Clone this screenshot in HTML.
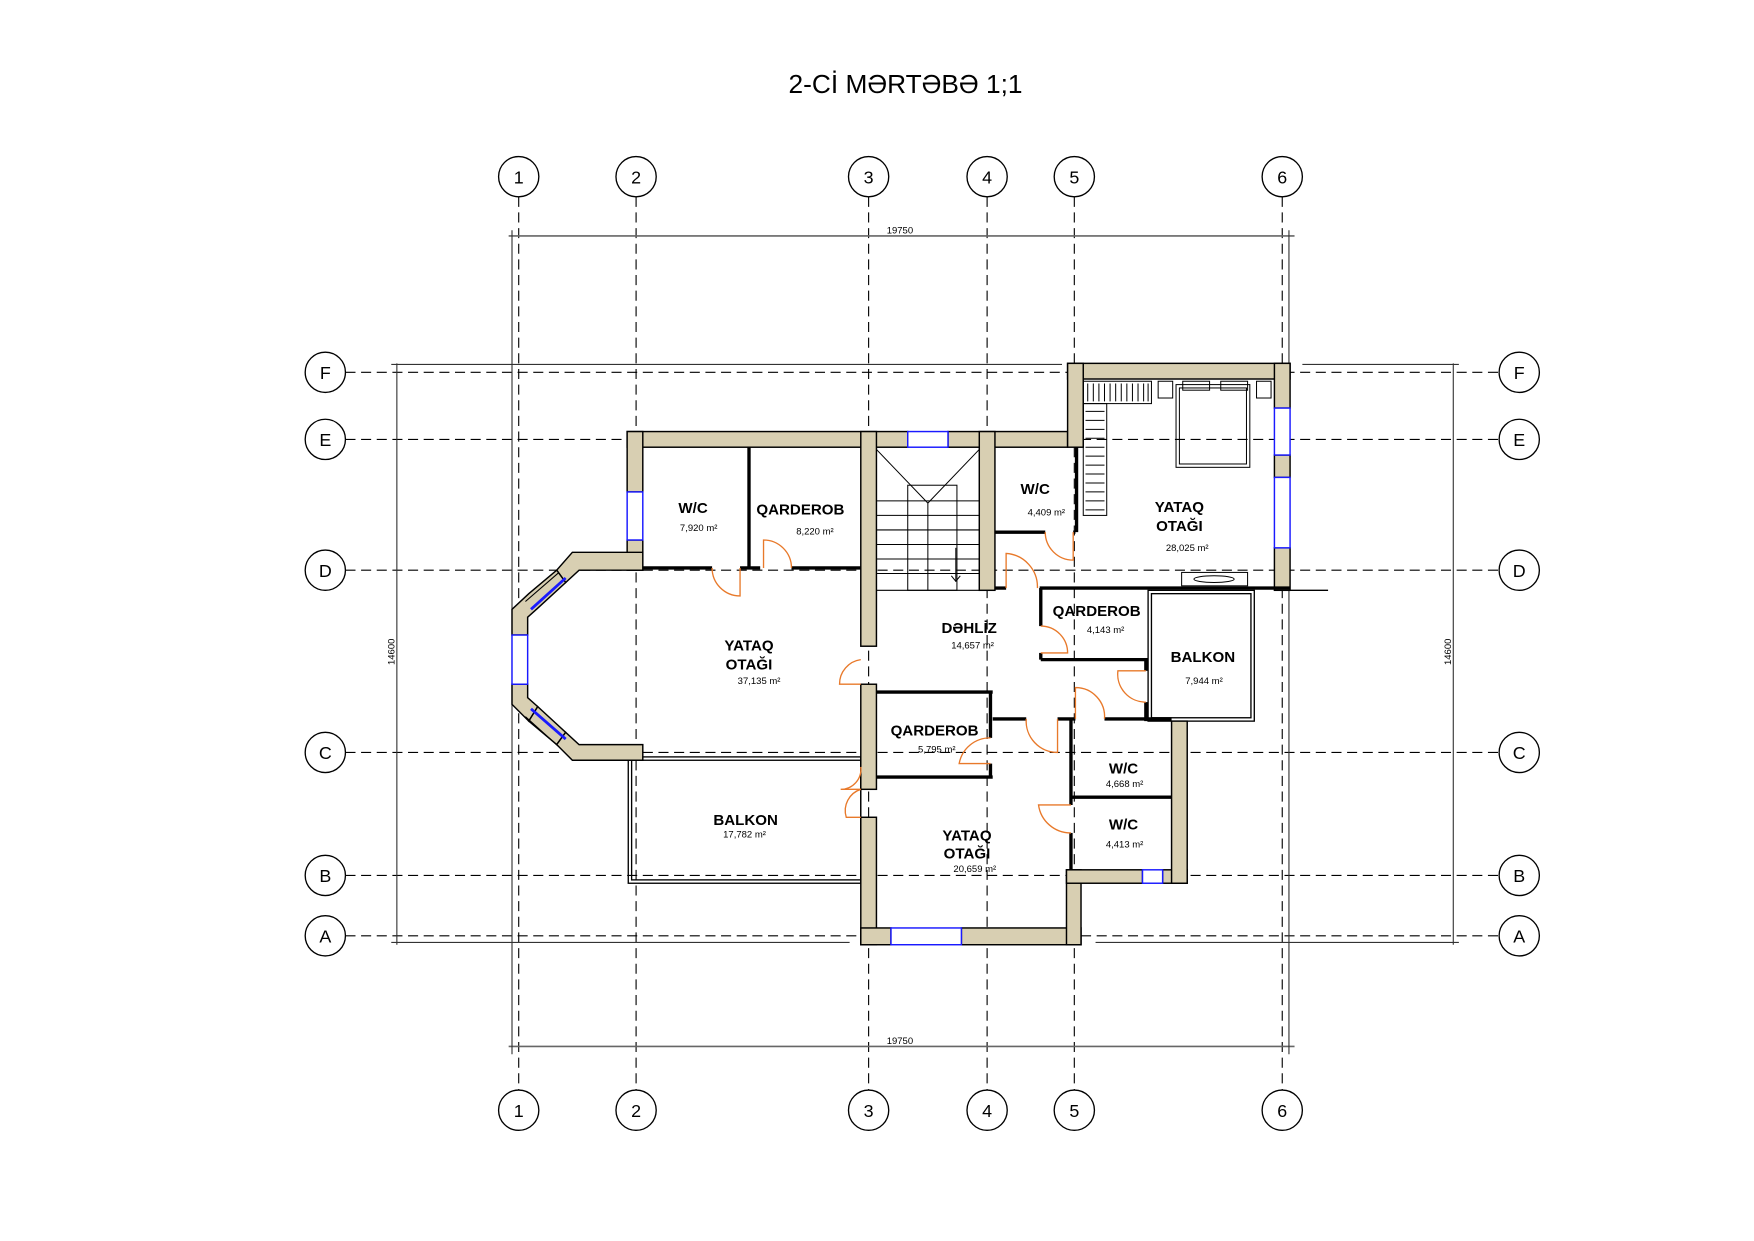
<!DOCTYPE html>
<html><head><meta charset="utf-8"><style>
html,body{margin:0;padding:0;background:#fff;}
svg{display:block;}
text{font-family:"Liberation Sans",Arial,sans-serif;}
.lb{font-weight:bold;font-size:13.5px;text-anchor:middle;}
.ar{font-size:8.5px;text-anchor:middle;}
.g{font-size:16px;text-anchor:middle;}
</style></head><body>
<svg width="1754" height="1241" viewBox="0 0 1569 1110" preserveAspectRatio="none" xmlns="http://www.w3.org/2000/svg">
<rect width="1569" height="1110" fill="#fff"/>
<text x="810" y="83" font-size="23.5" text-anchor="middle">2-Cİ MƏRTƏBƏ 1;1</text>

<!-- grid lines -->
<g stroke="#000" stroke-width="1" stroke-dasharray="9,5" fill="none">
<line x1="464" y1="176" x2="464" y2="975"/><line x1="569" y1="176" x2="569" y2="975"/>
<line x1="777" y1="176" x2="777" y2="975"/><line x1="883" y1="176" x2="883" y2="975"/>
<line x1="961" y1="176" x2="961" y2="975"/><line x1="1147" y1="176" x2="1147" y2="975"/>
<line x1="309" y1="333" x2="1341" y2="333"/><line x1="309" y1="393" x2="1341" y2="393"/>
<line x1="309" y1="510" x2="1341" y2="510"/><line x1="309" y1="673" x2="1341" y2="673"/>
<line x1="309" y1="783" x2="1341" y2="783"/><line x1="309" y1="837" x2="1341" y2="837"/>
</g>
<!-- dimension/extension lines -->
<g stroke="#333" stroke-width="1" fill="none">
<line x1="455" y1="211" x2="1158" y2="211" stroke="#666" stroke-width="1.5"/>
<line x1="455" y1="936" x2="1158" y2="936" stroke="#666" stroke-width="1.5"/>
<line x1="458" y1="206" x2="458" y2="943"/><line x1="1153" y1="206" x2="1153" y2="327"/>
<line x1="1153" y1="528" x2="1153" y2="943"/>
<line x1="355" y1="325" x2="355" y2="845"/><line x1="1300" y1="325" x2="1300" y2="845"/>
<line x1="350" y1="326" x2="950" y2="326"/><line x1="1165" y1="326" x2="1305" y2="326"/>
<line x1="350" y1="843" x2="760" y2="843"/><line x1="980" y1="843" x2="1305" y2="843"/>
</g>
<text x="805" y="209" font-size="8.5" text-anchor="middle">19750</text>
<text x="805" y="934" font-size="8.5" text-anchor="middle">19750</text>
<text x="0" y="0" font-size="8.5" text-anchor="middle" transform="translate(353,583) rotate(-90)">14600</text>
<text x="0" y="0" font-size="8.5" text-anchor="middle" transform="translate(1298,583) rotate(-90)">14600</text>

<!-- grid bubbles -->
<g fill="#fff" stroke="#000" stroke-width="1.2">
<circle cx="464" cy="158" r="18"/><circle cx="569" cy="158" r="18"/><circle cx="777" cy="158" r="18"/>
<circle cx="883" cy="158" r="18"/><circle cx="961" cy="158" r="18"/><circle cx="1147" cy="158" r="18"/>
<circle cx="464" cy="993" r="18"/><circle cx="569" cy="993" r="18"/><circle cx="777" cy="993" r="18"/>
<circle cx="883" cy="993" r="18"/><circle cx="961" cy="993" r="18"/><circle cx="1147" cy="993" r="18"/>
<circle cx="291" cy="333" r="18"/><circle cx="291" cy="393" r="18"/><circle cx="291" cy="510" r="18"/>
<circle cx="291" cy="673" r="18"/><circle cx="291" cy="783" r="18"/><circle cx="291" cy="837" r="18"/>
<circle cx="1359" cy="333" r="18"/><circle cx="1359" cy="393" r="18"/><circle cx="1359" cy="510" r="18"/>
<circle cx="1359" cy="673" r="18"/><circle cx="1359" cy="783" r="18"/><circle cx="1359" cy="837" r="18"/>
</g>
<g class="g">
<text x="464" y="164" class="g">1</text><text x="569" y="164" class="g">2</text><text x="777" y="164" class="g">3</text>
<text x="883" y="164" class="g">4</text><text x="961" y="164" class="g">5</text><text x="1147" y="164" class="g">6</text>
<text x="464" y="999" class="g">1</text><text x="569" y="999" class="g">2</text><text x="777" y="999" class="g">3</text>
<text x="883" y="999" class="g">4</text><text x="961" y="999" class="g">5</text><text x="1147" y="999" class="g">6</text>
<text x="291" y="339" class="g">F</text><text x="291" y="399" class="g">E</text><text x="291" y="516" class="g">D</text>
<text x="291" y="679" class="g">C</text><text x="291" y="789" class="g">B</text><text x="291" y="843" class="g">A</text>
<text x="1359" y="339" class="g">F</text><text x="1359" y="399" class="g">E</text><text x="1359" y="516" class="g">D</text>
<text x="1359" y="679" class="g">C</text><text x="1359" y="789" class="g">B</text><text x="1359" y="843" class="g">A</text>
</g>

<!-- balconies (thin double lines) -->
<g fill="none" stroke="#000" stroke-width="1.2">
<rect x="562" y="677" width="208" height="113"/><rect x="565" y="680" width="205" height="107"/>
<rect x="1027" y="528" width="95" height="117"/><rect x="1030" y="531" width="89" height="111"/>
<line x1="1154" y1="528" x2="1188" y2="528"/>
</g>

<!-- thick walls -->
<g fill="#d8cfb2" stroke="#000" stroke-width="1.3">
<rect x="561" y="386" width="251" height="14"/>
<rect x="848" y="386" width="107" height="14"/>
<rect x="561" y="386" width="14" height="54"/>
<rect x="561" y="483" width="14" height="27"/>
<polygon points="512,494 575,494 575,510 518,510 506,521 498,510"/>
<polygon points="498,510 506,521 481,544 472,552 472,568 458,568 458,545 473,531"/>
<polygon points="458,612 472,612 472,624 481,632 473,645 458,630"/>
<polygon points="481,632 473,645 498,666 506,655"/>
<polygon points="498,666 506,655 518,666 575,666 575,680 512,680"/>
<rect x="770" y="386" width="14" height="192"/>
<rect x="770" y="612" width="14" height="94"/>
<rect x="770" y="731" width="14" height="114"/>
<rect x="770" y="830" width="27" height="15"/>
<rect x="860" y="830" width="107" height="15"/>
<rect x="954" y="778" width="13" height="67"/>
<rect x="954" y="778" width="68" height="12"/>
<rect x="1040" y="778" width="22" height="12"/>
<rect x="1048" y="645" width="14" height="145"/>
<rect x="876" y="386" width="14" height="142"/>
<rect x="955" y="325" width="199" height="14"/>
<rect x="955" y="325" width="14" height="75"/>
<rect x="1140" y="325" width="14" height="40"/>
<rect x="1140" y="407" width="14" height="20"/>
<rect x="1140" y="490" width="14" height="38"/>
</g>
<!-- windows -->
<g fill="#fff" stroke="#1a1aff" stroke-width="1.3">
<rect x="812" y="386" width="36" height="14"/>
<rect x="561" y="440" width="14" height="43"/>
<rect x="458" y="568" width="14" height="44"/>
<rect x="797" y="830" width="63" height="15"/>
<rect x="1022" y="778" width="18" height="12"/>
<rect x="1140" y="365" width="14" height="42"/>
<rect x="1140" y="427" width="14" height="63"/>
</g>
<g stroke="#1a1aff" stroke-width="2.5">
<line x1="475" y1="545" x2="506" y2="517"/>
<line x1="475" y1="634" x2="506" y2="661"/>
</g>
<g stroke="#000" stroke-width="1">
<line x1="470" y1="538" x2="500" y2="512"/>
<line x1="470" y1="641" x2="500" y2="668"/>
</g>

<!-- thin partitions -->
<g stroke="#000" stroke-width="3" fill="none">
<line x1="670" y1="400" x2="670" y2="508"/>
<line x1="575" y1="508" x2="637" y2="508"/>
<line x1="662" y1="508" x2="680" y2="508"/>
<line x1="708" y1="508" x2="770" y2="508"/>
<line x1="890" y1="476" x2="935" y2="476"/>
<line x1="960" y1="476" x2="962" y2="476"/>
<line x1="963" y1="400" x2="963" y2="476"/>
<line x1="890" y1="526" x2="900" y2="526"/>
<line x1="930" y1="526" x2="1154" y2="526"/>
<line x1="931" y1="526" x2="931" y2="560"/>
<line x1="931" y1="584" x2="931" y2="590"/>
<line x1="931" y1="590" x2="1027" y2="590"/>
<line x1="784" y1="619" x2="888" y2="619"/>
<line x1="886" y1="619" x2="886" y2="660"/>
<line x1="886" y1="683" x2="886" y2="695"/>
<line x1="784" y1="695" x2="888" y2="695"/>
<line x1="888" y1="643" x2="918" y2="643"/>
<line x1="946" y1="643" x2="962" y2="643"/>
<line x1="988" y1="643" x2="1048" y2="643"/>
<line x1="958" y1="643" x2="958" y2="720"/>
<line x1="958" y1="745" x2="958" y2="778"/>
<line x1="958" y1="713" x2="1048" y2="713"/>
<line x1="1025" y1="590" x2="1025" y2="600"/>
<line x1="1025" y1="628" x2="1025" y2="645"/>
</g>

<!-- stairs -->
<g stroke="#000" stroke-width="0.9" fill="none">
<line x1="784" y1="402" x2="830" y2="450"/><line x1="876" y1="402" x2="830" y2="450"/>
<rect x="812" y="434" width="44" height="94"/>
<line x1="830" y1="450" x2="830" y2="528"/>
<line x1="784" y1="528" x2="876" y2="528"/>
<line x1="784" y1="448" x2="876" y2="448"/><line x1="784" y1="461" x2="876" y2="461"/>
<line x1="784" y1="474" x2="876" y2="474"/><line x1="784" y1="487" x2="876" y2="487"/>
<line x1="784" y1="500" x2="876" y2="500"/><line x1="784" y1="513" x2="876" y2="513"/>
<line x1="855" y1="490" x2="855" y2="520"/><polyline points="851,515 855,520 859,515"/>
</g>
<!-- wardrobe, bed, tv -->
<g stroke="#000" stroke-width="0.9" fill="none">
<rect x="969" y="341" width="61" height="20"/>
<rect x="969" y="361" width="21" height="100"/>
<path d="M973 343v16M978 343v16M983 343v16M988 343v16M993 343v16M998 343v16M1003 343v16M1008 343v16M1013 343v16M1018 343v16M1023 343v16M1027 343v16"/>
<path d="M971 368h17M971 376h17M971 384h17M971 392h17M971 400h17M971 408h17M971 416h17M971 424h17M971 432h17M971 440h17M971 448h17M971 456h17"/>
<rect x="1036" y="341" width="13" height="15"/><rect x="1124" y="341" width="13" height="15"/>
<rect x="1052" y="344" width="66" height="74"/><rect x="1055" y="347" width="60" height="68"/>
<rect x="1058" y="341" width="24" height="8"/><rect x="1092" y="341" width="24" height="8"/>
<rect x="1057" y="512" width="59" height="12"/>
<ellipse cx="1086" cy="518" rx="18" ry="3"/>
</g>

<!-- doors -->
<g stroke="#e8792a" stroke-width="1.2" fill="none">
<path d="M637 508 a25 25 0 0 0 25 25 v-25"/>
<path d="M683 508 v-25 a25 25 0 0 1 25 25"/>
<path d="M770 612 h-19 a22 22 0 0 1 19 -22"/>
<path d="M770 706 h-18 a18 18 0 0 0 18 -20"/>
<path d="M770 731 h-13 a20 20 0 0 1 13 -25"/>
<path d="M900 526 v-31 a30 30 0 0 1 28 31"/>
<path d="M935 476 a25 25 0 0 0 25 25 v-25"/>
<path d="M931 560 a24 24 0 0 1 24 24 h-24"/>
<path d="M1025 600 h-25 a25 25 0 0 0 25 28"/>
<path d="M962 643 v-28 a26 26 0 0 1 26 28"/>
<path d="M918 643 a28 28 0 0 0 28 30 v-30"/>
<path d="M886 660 a28 28 0 0 0 -28 23 h28"/>
<path d="M958 720 h-29 a29 29 0 0 0 29 25"/>
</g>

<!-- labels -->
<text x="620" y="459" class="lb">W/C</text><text x="625" y="475" class="ar">7,920 m²</text>
<text x="716" y="460" class="lb">QARDEROB</text><text x="729" y="478" class="ar">8,220 m²</text>
<text x="670" y="582" class="lb">YATAQ</text><text x="670" y="599" class="lb">OTAĞI</text>
<text x="679" y="612" class="ar">37,135 m²</text>
<text x="867" y="566" class="lb">DƏHLİZ</text><text x="870" y="580" class="ar">14,657 m²</text>
<text x="926" y="442" class="lb">W/C</text><text x="936" y="461" class="ar">4,409 m²</text>
<text x="1055" y="458" class="lb">YATAQ</text><text x="1055" y="475" class="lb">OTAĞI</text>
<text x="1062" y="493" class="ar">28,025 m²</text>
<text x="981" y="551" class="lb">QARDEROB</text><text x="989" y="566" class="ar">4,143 m²</text>
<text x="1076" y="592" class="lb">BALKON</text><text x="1077" y="612" class="ar">7,944 m²</text>
<text x="836" y="658" class="lb">QARDEROB</text><text x="838" y="673" class="ar">5,795 m²</text>
<text x="1005" y="692" class="lb">W/C</text><text x="1006" y="704" class="ar">4,668 m²</text>
<text x="1005" y="742" class="lb">W/C</text><text x="1006" y="758" class="ar">4,413 m²</text>
<text x="667" y="738" class="lb">BALKON</text><text x="666" y="749" class="ar">17,782 m²</text>
<text x="865" y="752" class="lb">YATAQ</text><text x="865" y="768" class="lb">OTAĞI</text>
<text x="872" y="780" class="ar">20,659 m²</text>
</svg>
</body></html>
